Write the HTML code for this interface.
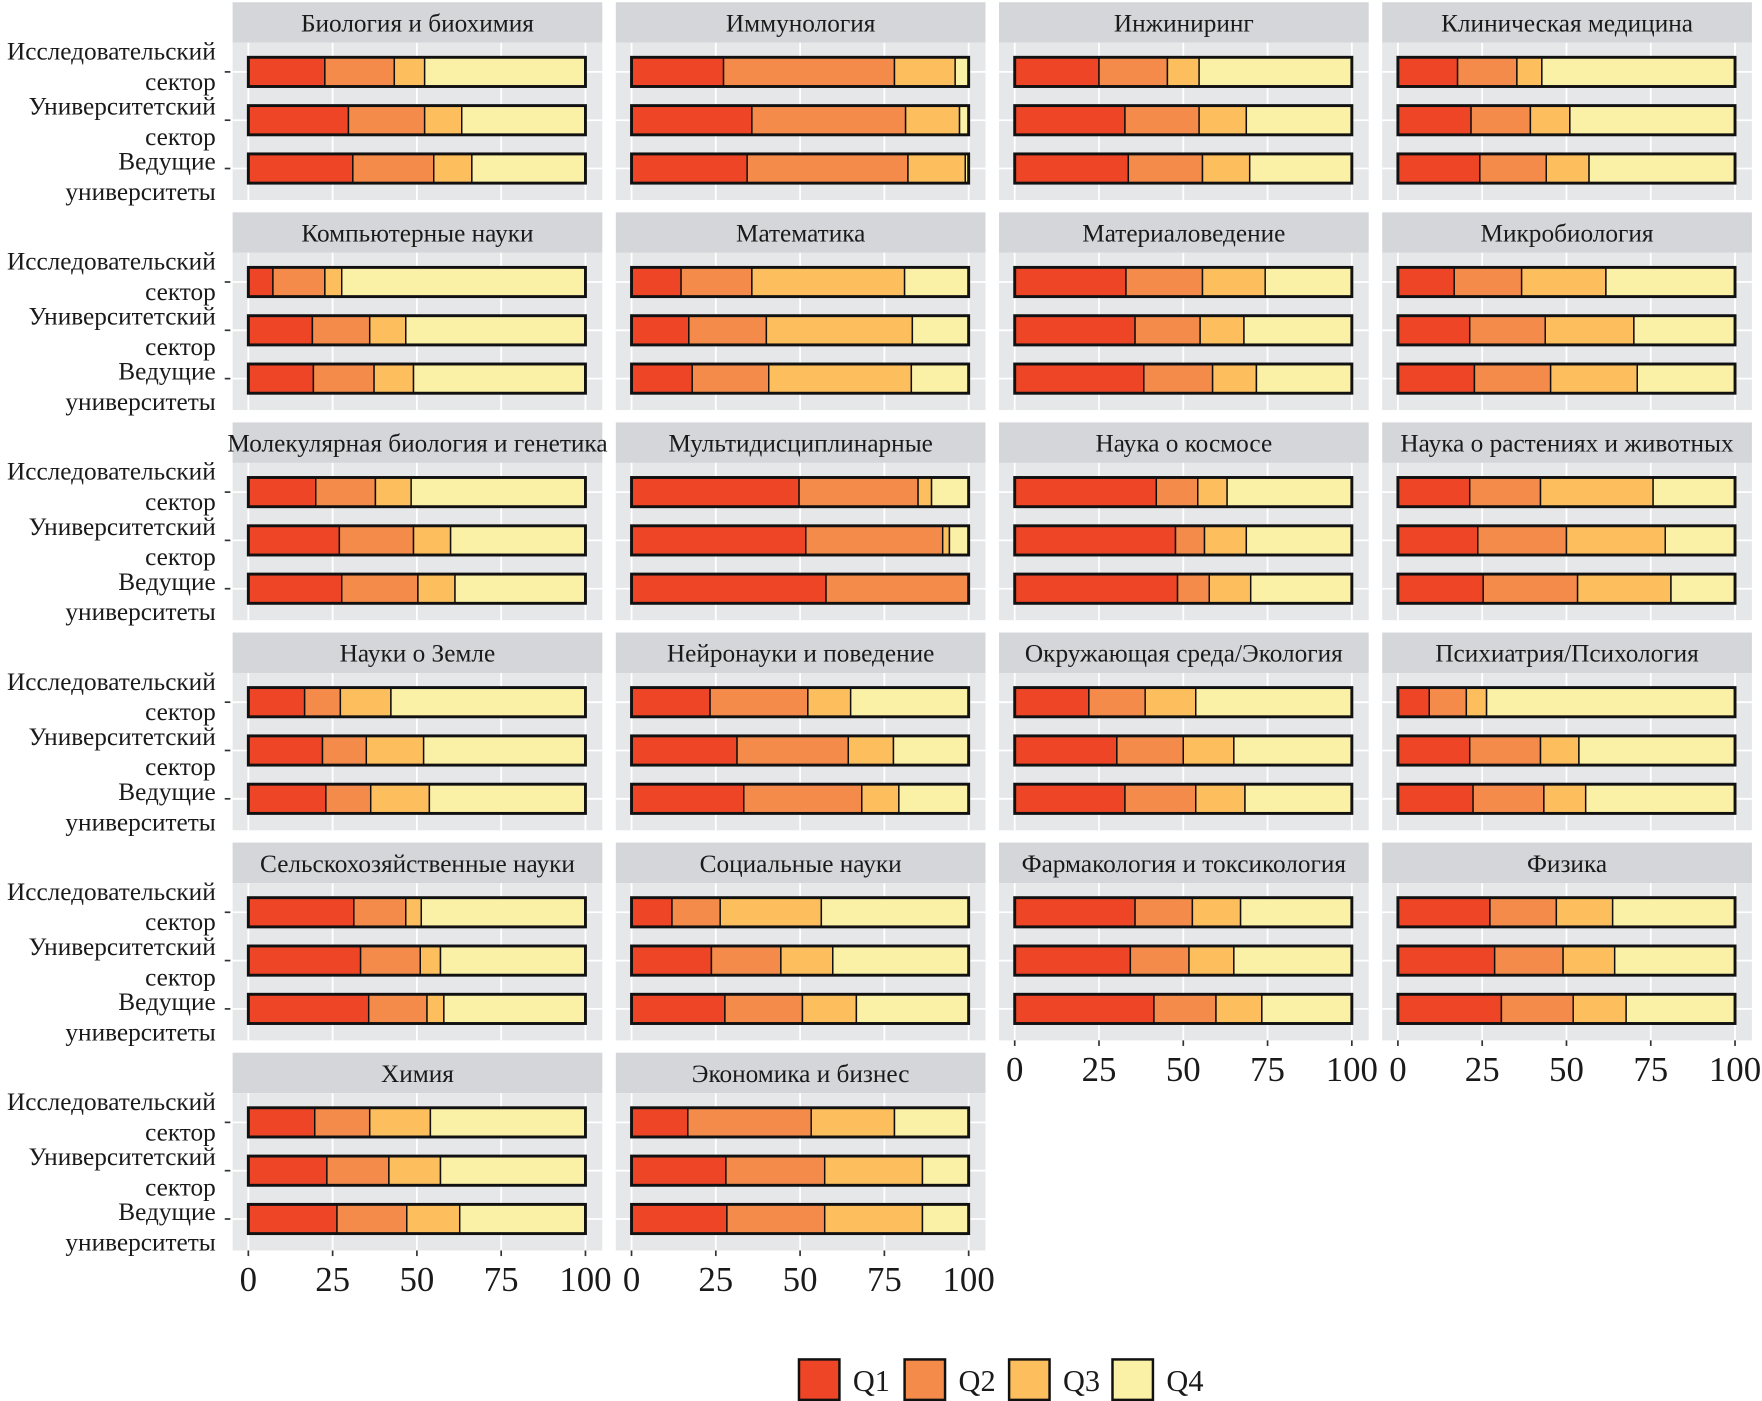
<!DOCTYPE html>
<html><head><meta charset="utf-8">
<style>
html,body{margin:0;padding:0;background:#fff;}
svg{display:block;}
text{font-family:"Liberation Serif","DejaVu Serif",serif;fill:#1a1a1a;}
</style></head>
<body>
<svg id="chart" width="1762" height="1401" viewBox="0 0 1568 1247" preserveAspectRatio="none" xmlns="http://www.w3.org/2000/svg"></svg>
<script>
const panels = ["Биология и биохимия","Иммунология","Инжиниринг","Клиническая медицина",
"Компьютерные науки","Математика","Материаловедение","Микробиология",
"Молекулярная биология и генетика","Мультидисциплинарные","Наука о космосе","Наука о растениях и животных",
"Науки о Земле","Нейронауки и поведение","Окружающая среда/Экология","Психиатрия/Психология",
"Сельскохозяйственные науки","Социальные науки","Фармакология и токсикология","Физика",
"Химия","Экономика и бизнес"];
const sectors = [["Исследовательский","сектор"],["Университетский","сектор"],["Ведущие","университеты"]];
const quartiles = ["Q1","Q2","Q3","Q4"];
const xTicks = [0,25,50,75,100];
// shares per panel: [research, university, leading]
const q1 = [22.7,29.7,31, 27.3,35.7,34.3, 25,32.7,33.7, 17.7,21.7,24.3,
7.3,19,19.3, 14.7,17,18, 33,35.7,38.3, 16.7,21.3,22.7,
20,27,27.7, 49.7,51.7,57.7, 42,47.7,48.3, 21.3,23.7,25.3,
16.7,22,23, 23.3,31.3,33.3, 22,30.3,32.7, 9.3,21.3,22.3,
31.3,33.3,35.7, 12,23.7,27.7, 35.7,34.3,41.3, 27.3,28.7,30.7,
19.7,23.3,26.3, 16.7,28,28.3];
const q2 = [20.6,22.6,24, 50.7,45.6,47.7, 20.3,22,22, 17.6,17.6,19.7,
15.4,17,18, 21,23,22.7, 22.7,19.3,20.4, 20,22.4,22.6,
17.7,22,22.6, 35.3,40.6,42.3, 12.3,8.6,9.4, 21,26.3,28,
10.6,13,13.3, 29,33,35, 16.7,19.7,21, 11,21,21,
15.4,17.7,17.3, 14.3,20.6,23, 17,17.4,18.4, 19.7,20.3,21.3,
16.3,18.4,20.7, 36.6,29.3,29];
const q3 = [9,11,11.3, 18,16,17, 9.4,14,14, 7.4,11.7,12.7,
5,10.7,11.7, 45.3,43.3,42.3, 18.6,13,13, 25,26.3,25.7,
10.6,11,11, 4,2,0, 8.7,12.4,12.3, 33.4,29.3,27.7,
15,17,17.4, 12.7,13.4,11, 15,15,14.6, 6,11.4,12.4,
4.6,6,5, 30,15.4,16, 14.3,13.3,13.6, 16.7,15.3,15.7,
18,15.3,15.7, 24.7,29,29];
const q4 = [47.7,36.7,33.7, 4,2.7,1, 45.3,31.3,30.3, 57.3,49,43.3,
72.3,53.3,51, 19,16.7,17, 25.7,32,28.3, 38.3,30,29,
51.7,40,38.7, 11,5.7,0, 37,31.3,30, 24.3,20.7,19,
57.7,48,46.3, 35,22.3,20.7, 46.3,35,31.7, 73.7,46.3,44.3,
48.7,43,42, 43.7,40.3,33.3, 33,35,26.7, 36.3,35.7,32.3,
46,43,37.3, 22,13.7,13.7];

const colors = ["#ee4527","#f58b4b","#fdbf5d","#faf0a6"];
const NS="http://www.w3.org/2000/svg";
const svg=document.getElementById('chart');
function el(tag,attrs,parent){const e=document.createElementNS(NS,tag);for(const k in attrs)e.setAttribute(k,attrs[k]);(parent||svg).appendChild(e);return e;}

const colX=[207,548,889,1230], panelW=329;
const rowY=[2,189,376,563,750,937], stripH=36, panelH=176;
const barOff=[62,105,148], barH=26;
function xScale(col,v){return colX[col]+14+v*3;}

panels.forEach((name,p)=>{
  const col=p%4,row=Math.floor(p/4);
  const x0=colX[col],y0=rowY[row];
  const g=el('g',{});
  
  
  const strip=el('rect',{x:x0,y:y0,width:panelW,height:stripH,fill:'#d4d6d9'},g);
  
  
  const t=el('text',{x:x0+panelW/2,y:y0+26,'text-anchor':'middle','font-size':22.5},g);
  t.textContent=name;
  
  
  const bg=el('rect',{x:x0,y:y0+stripH,width:panelW,height:panelH-stripH,fill:'#e6e7e9'},g);
  
  
  xTicks.forEach(v=>{el('line',{x1:xScale(col,v),x2:xScale(col,v),y1:y0+stripH,y2:y0+panelH,stroke:'#fff','stroke-width':1.6},g);});
  barOff.forEach(o=>{el('line',{x1:x0,x2:x0+panelW,y1:y0+o,y2:y0+o,stroke:'#fff','stroke-width':1.6},g);});
  for(let b=0;b<3;b++){
    const i=p*3+b;
    const vals=[q1[i],q2[i],q3[i],q4[i]];
    let acc=0;
    const by=y0+barOff[b]-barH/2;
    vals.forEach((v,qi)=>{
      if(v<=0)return;
      const r=el('rect',{x:xScale(col,acc),y:by,width:v*3,height:barH,fill:colors[qi],stroke:'#111','stroke-width':1.3},g);
      
      
      acc+=v;
    });
    const total=acc;
    const ob=el('rect',{x:xScale(col,0),y:by,width:total*3,height:barH,fill:'none',stroke:'#111','stroke-width':2.6},g);
    
    
    if(col===0){
      const cy=y0+barOff[b];
      el('line',{x1:200,x2:205,y1:cy,y2:cy,stroke:'#333','stroke-width':1.5},g);
      const l1=el('text',{x:192,y:y0+51+49*b,'text-anchor':'end','font-size':22.5},g);
      l1.textContent=sectors[b][0];
      
      
      const l2=el('text',{x:192,y:y0+78+49*b,'text-anchor':'end','font-size':22.5},g);
      l2.textContent=sectors[b][1];
      
      
    }
  }
  const isBottom = (p>=20) || (p===18||p===19);
  if(isBottom){
    const yb=y0+panelH;
    xTicks.forEach(v=>{
      const x=xScale(col,v);
      el('line',{x1:x,x2:x,y1:yb,y2:yb+5,stroke:'#333','stroke-width':1.5},g);
      const tl=el('text',{x:x,y:yb+36,'text-anchor':'middle','font-size':31},g);
      tl.textContent=v;
      
      
    });
  }
});

const lg=el('g',{});


const legX=[711,805,898,990];
quartiles.forEach((q,i)=>{
  const r=el('rect',{x:legX[i],y:1210,width:36,height:36,fill:colors[i],stroke:'#111','stroke-width':2.2},lg);
  
  
  const t=el('text',{x:legX[i]+48,y:1238,'font-size':27},lg);
  t.textContent=q;
  
  
});
</script>
</body></html>
